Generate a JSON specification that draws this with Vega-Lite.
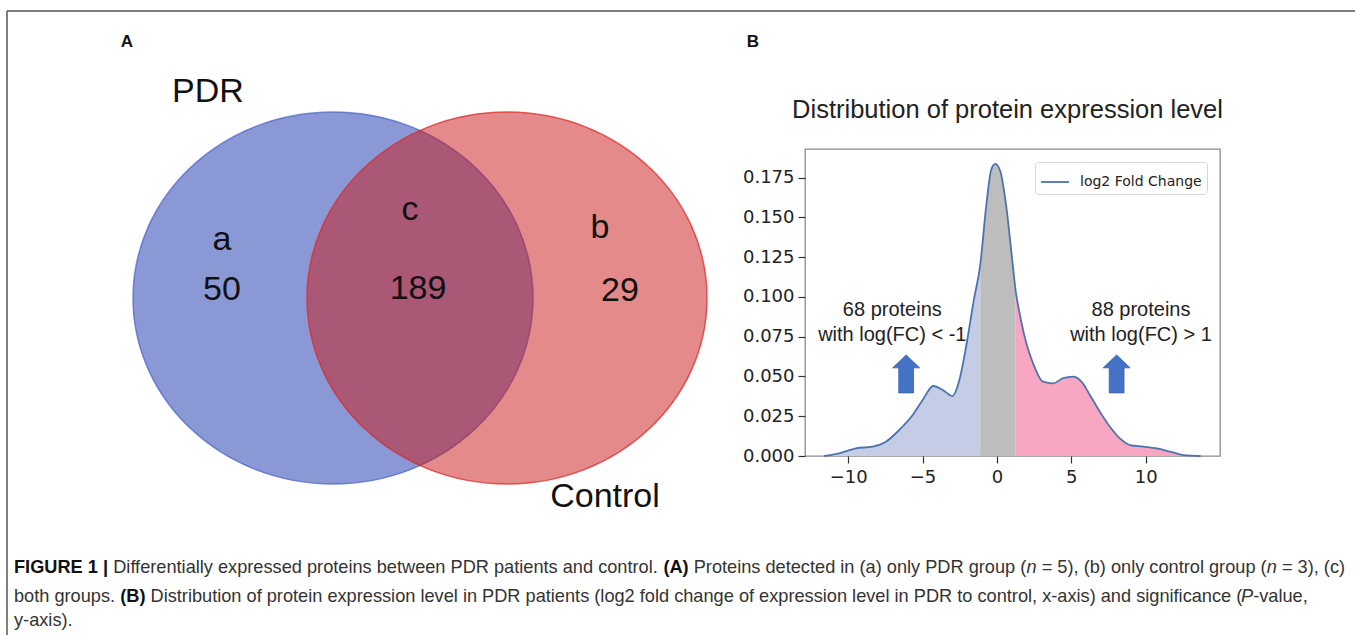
{
  "$schema": "https://vega.github.io/schema/vega-lite/v6.json",
  "background": "white",
  "padding": 0,
  "spacing": 0,
  "bounds": "flush",
  "resolve": {"scale": {"stroke": "independent", "fill": "independent"}, "legend": {"stroke": "independent", "fill": "independent"}},
  "config": {"view": {"stroke": null}, "text": {"font": "Liberation Sans"}},
  "datasets": {
    "curve": [
      {"x": -11.62, "y": 0}, {"x": -10.6, "y": 0.0017}, {"x": -9.48, "y": 0.0048}, {"x": -8.36, "y": 0.0059},
      {"x": -7.46, "y": 0.009}, {"x": -6.56, "y": 0.0164}, {"x": -5.66, "y": 0.0258}, {"x": -4.99, "y": 0.0352},
      {"x": -4.27, "y": 0.044}, {"x": -3.64, "y": 0.0415}, {"x": -3.0, "y": 0.0377}, {"x": -2.52, "y": 0.0478},
      {"x": -2.07, "y": 0.0687}, {"x": -1.55, "y": 0.098}, {"x": -1.12, "y": 0.12}, {"x": -0.72, "y": 0.157},
      {"x": -0.38, "y": 0.18}, {"x": -0.11, "y": 0.1836}, {"x": 0.23, "y": 0.179}, {"x": 0.63, "y": 0.157},
      {"x": 1.08, "y": 0.119}, {"x": 1.26, "y": 0.104}, {"x": 1.53, "y": 0.0897}, {"x": 1.98, "y": 0.0709},
      {"x": 2.43, "y": 0.0583}, {"x": 3.1, "y": 0.0467}, {"x": 3.78, "y": 0.0457}, {"x": 4.45, "y": 0.0489},
      {"x": 5.12, "y": 0.0499}, {"x": 5.69, "y": 0.0467}, {"x": 6.25, "y": 0.0384}, {"x": 6.92, "y": 0.0279},
      {"x": 7.6, "y": 0.0184}, {"x": 8.27, "y": 0.0111}, {"x": 8.95, "y": 0.0069}, {"x": 9.84, "y": 0.0059},
      {"x": 10.75, "y": 0.0048}, {"x": 11.65, "y": 0.0027}, {"x": 12.54, "y": 0.0006}, {"x": 13.7, "y": 0}
    ],
    "bands": [
      {"region": "neg", "x": -11.62, "y": 0}, {"region": "neg", "x": -10.6, "y": 0.0017}, {"region": "neg", "x": -9.48, "y": 0.0048},
      {"region": "neg", "x": -8.36, "y": 0.0059}, {"region": "neg", "x": -7.46, "y": 0.009}, {"region": "neg", "x": -6.56, "y": 0.0164},
      {"region": "neg", "x": -5.66, "y": 0.0258}, {"region": "neg", "x": -4.99, "y": 0.0352}, {"region": "neg", "x": -4.27, "y": 0.044},
      {"region": "neg", "x": -3.64, "y": 0.0415}, {"region": "neg", "x": -3.0, "y": 0.0377}, {"region": "neg", "x": -2.52, "y": 0.0478},
      {"region": "neg", "x": -2.07, "y": 0.0687}, {"region": "neg", "x": -1.55, "y": 0.098}, {"region": "neg", "x": -1.12, "y": 0.12},
      {"region": "mid", "x": -1.12, "y": 0.12}, {"region": "mid", "x": -0.72, "y": 0.157}, {"region": "mid", "x": -0.38, "y": 0.18},
      {"region": "mid", "x": -0.11, "y": 0.1836}, {"region": "mid", "x": 0.23, "y": 0.179}, {"region": "mid", "x": 0.63, "y": 0.157},
      {"region": "mid", "x": 1.08, "y": 0.119}, {"region": "mid", "x": 1.26, "y": 0.104},
      {"region": "pos", "x": 1.26, "y": 0.104}, {"region": "pos", "x": 1.53, "y": 0.0897}, {"region": "pos", "x": 1.98, "y": 0.0709},
      {"region": "pos", "x": 2.43, "y": 0.0583}, {"region": "pos", "x": 3.1, "y": 0.0467}, {"region": "pos", "x": 3.78, "y": 0.0457},
      {"region": "pos", "x": 4.45, "y": 0.0489}, {"region": "pos", "x": 5.12, "y": 0.0499}, {"region": "pos", "x": 5.69, "y": 0.0467},
      {"region": "pos", "x": 6.25, "y": 0.0384}, {"region": "pos", "x": 6.92, "y": 0.0279}, {"region": "pos", "x": 7.6, "y": 0.0184},
      {"region": "pos", "x": 8.27, "y": 0.0111}, {"region": "pos", "x": 8.95, "y": 0.0069}, {"region": "pos", "x": 9.84, "y": 0.0059},
      {"region": "pos", "x": 10.75, "y": 0.0048}, {"region": "pos", "x": 11.65, "y": 0.0027}, {"region": "pos", "x": 12.54, "y": 0.0006},
      {"region": "pos", "x": 13.7, "y": 0}
    ]
  },
  "hconcat": [
    {
      "width": 805,
      "height": 635,
      "encoding": {
        "x": {"field": "x", "type": "quantitative", "scale": {"domain": [0, 805], "nice": false, "zero": false}, "axis": null},
        "y": {"field": "y", "type": "quantitative", "scale": {"domain": [0, 635], "reverse": true, "nice": false, "zero": false}, "axis": null}
      },
      "layer": [
        {
          "data": {"values": [{"x": 7, "y": 11, "x2": 1355, "y2": 11}, {"x": 7, "y": 11, "x2": 7, "y2": 635}]},
          "mark": {"type": "rule", "color": "#555555", "strokeWidth": 1.5},
          "encoding": {"x2": {"field": "x2"}, "y2": {"field": "y2"}}
        },
        {
          "data": {"values": [{"set": "PDR", "x": 333, "y": 298}]},
          "mark": {"type": "point", "shape": "M-1,0A1,0.93,0,1,1,1,0A1,0.93,0,1,1,-1,0Z", "size": 160000, "filled": true, "opacity": 1, "fill": "#1531ad", "fillOpacity": 0.5, "stroke": "#4a62c8", "strokeOpacity": 0.7, "strokeWidth": 1.5}
        },
        {
          "data": {"values": [{"set": "Control", "x": 507, "y": 298}]},
          "mark": {"type": "point", "shape": "M-1,0A1,0.93,0,1,1,1,0A1,0.93,0,1,1,-1,0Z", "size": 160000, "filled": true, "opacity": 1, "fill": "#cb1515", "fillOpacity": 0.5, "stroke": "#dd2a2a", "strokeOpacity": 0.75, "strokeWidth": 1.5}
        },
        {
          "data": {"values": [
            {"label": "PDR", "x": 208, "y": 92}, {"label": "a", "x": 222, "y": 240}, {"label": "50", "x": 222, "y": 290},
            {"label": "c", "x": 410, "y": 210}, {"label": "189", "x": 418, "y": 289}, {"label": "b", "x": 600, "y": 228},
            {"label": "29", "x": 620, "y": 291}, {"label": "Control", "x": 605, "y": 497}
          ]},
          "mark": {"type": "text", "fontSize": 34, "color": "#111111", "align": "center", "baseline": "middle"},
          "encoding": {"text": {"field": "label"}}
        },
        {
          "data": {"values": [{"label": "A", "x": 127, "y": 42}, {"label": "B", "x": 753, "y": 42}]},
          "mark": {"type": "text", "fontSize": 17, "fontWeight": "bold", "color": "#111111", "align": "center", "baseline": "middle"},
          "encoding": {"text": {"field": "label"}}
        },
        {
          "data": {"values": [
            {"label": "Differentially expressed proteins between PDR patients and control.", "x": 113.2, "y": 568},
            {"label": "Proteins detected in (a) only PDR group (", "x": 693.7, "y": 568},
            {"label": "= 5), (b) only control group (", "x": 1041.7, "y": 568},
            {"label": "= 3), (c)", "x": 1281.9, "y": 568},
            {"label": "both groups.", "x": 14, "y": 597},
            {"label": "Distribution of protein expression level in PDR patients (log2 fold change of expression level in PDR to control, x-axis) and significance (", "x": 150.5, "y": 597},
            {"label": "-value,", "x": 1253.2, "y": 597},
            {"label": "y-axis).", "x": 14, "y": 621}
          ]},
          "mark": {"type": "text", "fontSize": 18.2, "color": "#333333", "align": "left", "baseline": "middle"},
          "encoding": {"text": {"field": "label"}}
        },
        {
          "data": {"values": [
            {"label": "FIGURE 1 |", "x": 14, "y": 568},
            {"label": "(A)", "x": 663.4, "y": 568},
            {"label": "(B)", "x": 120.2, "y": 597}
          ]},
          "mark": {"type": "text", "fontSize": 18.2, "fontWeight": "bold", "color": "#111111", "align": "left", "baseline": "middle"},
          "encoding": {"text": {"field": "label"}}
        },
        {
          "data": {"values": [
            {"label": "n", "x": 1026.5, "y": 568},
            {"label": "n", "x": 1266.7, "y": 568},
            {"label": "P", "x": 1241.0, "y": 597}
          ]},
          "mark": {"type": "text", "fontSize": 18.2, "fontStyle": "italic", "color": "#333333", "align": "left", "baseline": "middle"},
          "encoding": {"text": {"field": "label"}}
        }
      ]
    },
    {
      "spacing": 0,
      "bounds": "flush",
      "resolve": {"scale": {"stroke": "independent", "fill": "independent"}, "legend": {"stroke": "independent", "fill": "independent"}},
      "vconcat": [
        {
          "width": 415,
          "height": 149,
          "data": {"values": [{"label": "Distribution of protein expression level", "x": 202.5, "y": 110}]},
          "mark": {"type": "text", "fontSize": 25.5, "color": "#222222", "align": "center", "baseline": "middle"},
          "encoding": {
            "x": {"field": "x", "type": "quantitative", "scale": {"domain": [0, 415], "nice": false, "zero": false}, "axis": null},
            "y": {"field": "y", "type": "quantitative", "scale": {"domain": [0, 149], "reverse": true, "nice": false, "zero": false}, "axis": null},
            "text": {"field": "label"}
          }
        },
        {
          "width": 415,
          "height": 307,
          "view": {"stroke": "#8c8c8c", "strokeWidth": 1.3},
          "encoding": {
            "x": {"field": "x", "type": "quantitative",
                  "scale": {"domain": [-12.9, 15.0], "nice": false, "zero": false},
                  "axis": {"values": [-10, -5, 0, 5, 10], "format": "d", "grid": false, "domain": false, "tickSize": 7, "tickColor": "#333333", "tickWidth": 1.2,
                           "labelFont": "DejaVu Sans", "labelFontSize": 18, "labelColor": "#222222", "labelPadding": 5, "title": null}},
            "y": {"field": "y", "type": "quantitative",
                  "scale": {"domain": [0, 0.193], "nice": false, "zero": false},
                  "axis": {"values": [0, 0.025, 0.05, 0.075, 0.1, 0.125, 0.15, 0.175], "format": ".3f", "grid": false, "domain": false, "tickSize": 7, "tickColor": "#333333", "tickWidth": 1.2,
                           "labelFont": "DejaVu Sans", "labelFontSize": 18, "labelColor": "#222222", "labelPadding": 4, "title": null}}
          },
          "layer": [
            {
              "data": {"name": "bands"},
              "mark": {"type": "area", "interpolate": "monotone", "opacity": 1},
              "encoding": {
                "y": {"field": "y", "type": "quantitative", "stack": null},
                "fill": {"field": "region", "type": "nominal", "scale": {"domain": ["neg", "mid", "pos"], "range": ["#c5cde6", "#bdbdbd", "#f8a7c3"]}, "legend": null}
              }
            },
            {
              "data": {"name": "curve"},
              "mark": {"type": "line", "interpolate": "monotone", "strokeWidth": 1.8},
              "encoding": {
                "stroke": {"datum": "log2 Fold Change", "type": "nominal", "scale": {"range": ["#4c72b0"]},
                           "legend": {"orient": "top-right", "offset": 13, "title": null, "symbolType": "stroke", "symbolSize": 784, "symbolStrokeWidth": 1.8,
                                      "labelFont": "DejaVu Sans", "labelFontSize": 14, "labelColor": "#222222", "padding": 5, "strokeColor": "#d6d6d6",
                                      "fillColor": "white", "cornerRadius": 3, "labelOffset": 10}}
              }
            },
            {
              "data": {"values": [{"x": -6.1, "y": 0.0516}, {"x": 8.05, "y": 0.0516}]},
              "mark": {"type": "point", "shape": "M0,-1L0.71,-0.32L0.39,-0.32L0.39,1L-0.39,1L-0.39,-0.32L-0.71,-0.32Z", "size": 1444, "filled": true, "opacity": 1, "fill": "#4472c4", "stroke": "#3762ad", "strokeWidth": 0.8}
            },
            {
              "data": {"values": [
                {"label": "68 proteins", "x": -7.03, "y": 0.0918},
                {"label": "with log(FC) < -1", "x": -7.03, "y": 0.0761},
                {"label": "88 proteins", "x": 9.69, "y": 0.0918},
                {"label": "with log(FC) > 1", "x": 9.69, "y": 0.0761}
              ]},
              "mark": {"type": "text", "font": "Liberation Sans", "fontSize": 20, "color": "#222222", "align": "center", "baseline": "middle"},
              "encoding": {"text": {"field": "label"}}
            }
          ]
        }
      ]
    }
  ]
}
